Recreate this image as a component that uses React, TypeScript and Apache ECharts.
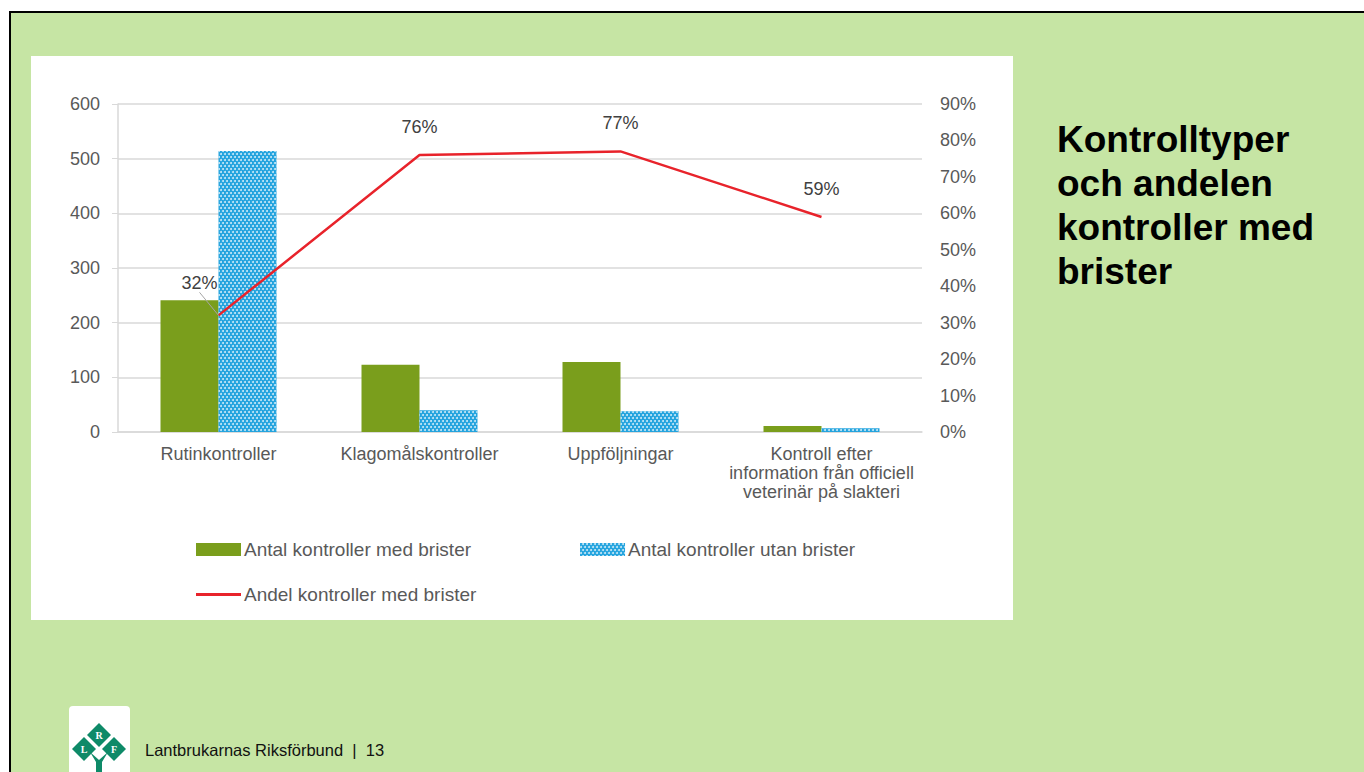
import React, { useEffect, useRef } from "react";
import * as echarts from "echarts";

const categories = [
  "Rutinkontroller",
  "Klagomålskontroller",
  "Uppföljningar",
  "Kontroll efter\ninformation från officiell\nveterinär på slakteri",
];
const withFaults = [241, 123, 128, 11];
const withoutFaults = [514, 40, 38, 7];
const shareWithFaults = [0.32, 0.76, 0.77, 0.59];

const seriesNames = [
  "Antal kontroller med brister",
  "Antal kontroller utan brister",
  "Andel kontroller med brister",
];
const titleText = "Kontrolltyper\noch andelen\nkontroller med\nbrister";
const footerText = "Lantbrukarnas Riksförbund  |  13";

const FONT = "'Liberation Sans', Arial, sans-serif";
const GRAY = "#595959";

export default function App() {
  const ref = useRef<HTMLDivElement>(null);
  useEffect(() => {
    document.body.style.margin = "0";
    const chart = echarts.init(ref.current!, undefined, { renderer: "svg" });
    const lineData = shareWithFaults.map((v, i) =>
      i === 0
        ? { value: v, labelLine: { show: true, lineStyle: { color: "#a6a6a6", width: 1 } } }
        : { value: v, labelLine: { show: false } }
    );
    const option: any = {
      animation: false,
      textStyle: { fontFamily: FONT },
      graphic: [
        { type: "rect", z: -100, shape: { x: 9, y: 11, width: 1400, height: 800 }, style: { fill: "#000" } },
        { type: "rect", z: -99, shape: { x: 11, y: 13, width: 1400, height: 800 }, style: { fill: "#c6e5a4" } },
        { type: "rect", z: -98, shape: { x: 31, y: 56, width: 982, height: 564 }, style: { fill: "#ffffff" } },
        {
          type: "text", left: 1057, top: 117, z: 10,
          style: { text: titleText, font: `bold 37px ${FONT}`, fill: "#000", lineHeight: 44 },
        },
        // logo
        { type: "rect", z: 5, shape: { x: 69, y: 706, width: 61, height: 80, r: 4 }, style: { fill: "#ffffff" } },
        { type: "polygon", z: 6, shape: { points: [[99, 723], [111, 735], [99, 747], [87, 735]] }, style: { fill: "#0e8a68" } },
        { type: "polygon", z: 6, shape: { points: [[84, 737], [96, 749], [84, 761], [72, 749]] }, style: { fill: "#0e8a68" } },
        { type: "polygon", z: 6, shape: { points: [[114, 737], [126, 749], [114, 761], [102, 749]] }, style: { fill: "#0e8a68" } },
        { type: "polygon", z: 6, shape: { points: [[90, 752], [99, 760], [108, 752], [102, 762], [102, 772], [96, 772], [96, 762]] }, style: { fill: "#0e8a68" } },
        { type: "text", z: 7, x: 99, y: 735, style: { text: "R", font: "bold 10px 'Liberation Serif', serif", fill: "#fff", align: "center", verticalAlign: "middle" } },
        { type: "text", z: 7, x: 84, y: 749, style: { text: "L", font: "bold 10px 'Liberation Serif', serif", fill: "#fff", align: "center", verticalAlign: "middle" } },
        { type: "text", z: 7, x: 114, y: 749, style: { text: "F", font: "bold 10px 'Liberation Serif', serif", fill: "#fff", align: "center", verticalAlign: "middle" } },
        {
          type: "text", z: 10, x: 145, y: 750,
          style: { text: footerText, font: `16.5px ${FONT}`, fill: "#111", verticalAlign: "middle" },
        },
      ],
      grid: { left: 118, right: 442, top: 104, bottom: 340, containLabel: false },
      legend: [
        {
          left: 191, top: 535, itemWidth: 45, itemHeight: 13, itemGap: 109, icon: "rect",
          data: [seriesNames[0], seriesNames[1]],
          textStyle: { color: GRAY, fontSize: 19, fontFamily: FONT, padding: [0, 0, 0, -2] },
        },
        {
          left: 191, top: 580, itemWidth: 45, itemHeight: 3, icon: "rect",
          data: [seriesNames[2]],
          textStyle: { color: GRAY, fontSize: 19, fontFamily: FONT, padding: [0, 0, 0, -2] },
        },
      ],
      xAxis: {
        type: "category",
        data: categories,
        axisLine: { show: true, lineStyle: { color: "#d9d9d9", width: 1.5 } },
        axisTick: { show: false },
        axisLabel: { color: GRAY, fontSize: 18, margin: 12, lineHeight: 19, interval: 0, align: "center" },
      },
      yAxis: [
        {
          type: "value", min: 0, max: 600, interval: 100,
          axisLine: { show: true, lineStyle: { color: "#d9d9d9", width: 1.5 } },
          axisTick: { show: true, length: 6, lineStyle: { color: "#d9d9d9" } },
          splitLine: { show: true, lineStyle: { color: "#d9d9d9", width: 1.5 } },
          axisLabel: { color: GRAY, fontSize: 18, margin: 18 },
        },
        {
          type: "value", min: 0, max: 0.9, interval: 0.1, position: "right",
          axisLine: { show: false }, axisTick: { show: false }, splitLine: { show: false },
          axisLabel: { color: GRAY, fontSize: 18, margin: 18, formatter: (v: number) => Math.round(v * 100) + "%" },
        },
      ],
      series: [
        {
          name: seriesNames[0], type: "bar", data: withFaults, barWidth: 58, barGap: "0%",
          itemStyle: { color: "#7a9e1c" },
        },
        {
          name: seriesNames[1], type: "bar", data: withoutFaults, barWidth: 58,
          itemStyle: {
            color: "#22a3de",
            decal: {
              symbol: "circle", symbolSize: 1, color: "rgba(255,255,255,0.75)",
              dashArrayX: [[2, 2], [0, 2, 2, 0]], dashArrayY: [2, 1], rotation: 0,
            },
          },
        },
        {
          name: seriesNames[2], type: "line", yAxisIndex: 1, data: lineData,
          symbol: "circle", symbolSize: 0.1, showSymbol: true,
          lineStyle: { color: "#e8232b", width: 2.5 }, itemStyle: { color: "#e8232b" },
          z: 5,
          label: {
            show: true, position: "top", distance: 19, color: "#404040", fontSize: 18,
            formatter: (p: any) => Math.round(p.value * 100) + "%",
          },
          labelLayout: (p: any) => (p.dataIndex === 0 ? { dx: -19, dy: -4 } : {}),
          labelLine: { show: false },
        },
      ],
    };
    chart.setOption(option);
    return () => chart.dispose();
  }, []);
  return <div ref={ref} style={{ width: 1364, height: 772 }} />;
}
